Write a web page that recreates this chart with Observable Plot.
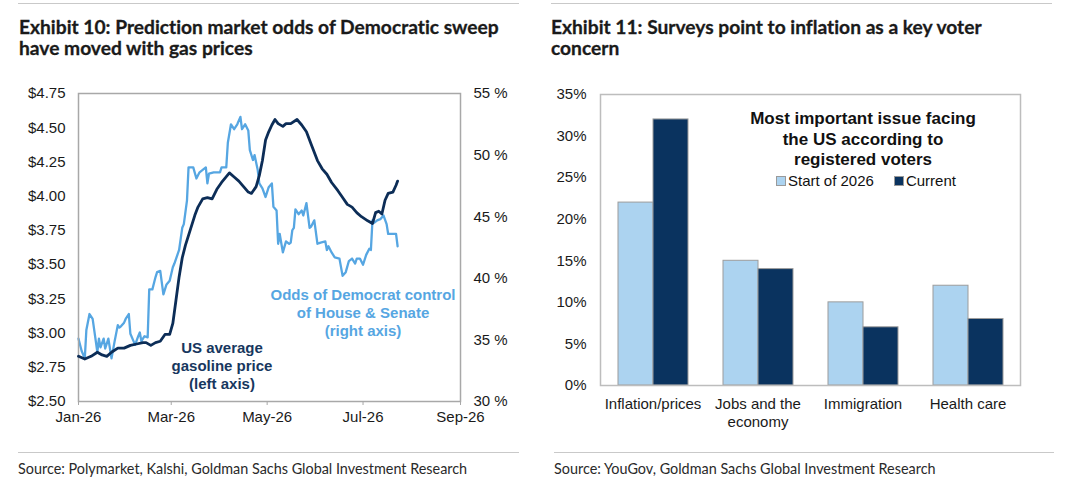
<!DOCTYPE html>
<html>
<head>
<meta charset="utf-8">
<script src="https://cdn.jsdelivr.net/npm/d3@7"></script>
<script src="https://cdn.jsdelivr.net/npm/@observablehq/plot@0.6"></script>
<style>
  html, body { margin: 0; padding: 0; background: #fff; }
  #page { position: relative; width: 1080px; height: 479px; overflow: hidden; background: #fff; }
  .abs { position: absolute; }
  .title { font-family: Lato, "Noto Sans", sans-serif; font-weight: 700; font-size: 19.2px; line-height: 21px; color: #1a1a1a; white-space: nowrap; font-variant-ligatures: none; -webkit-text-stroke: 0.3px #1a1a1a; }
  .rule { position: absolute; height: 0; border-top: 1.5px solid #c9c9c9; }
  .source { font-family: Lato, "Noto Sans", sans-serif; font-size: 14.4px; color: #2a2a2a; white-space: nowrap; font-variant-ligatures: none; }
  .anno { font-family: "Liberation Sans", Arial, sans-serif; font-weight: 700; font-size: 15px; line-height: 18px; text-align: center; white-space: nowrap; }
  .leg { font-family: "Liberation Sans", Arial, sans-serif; color: #111; white-space: nowrap; }
  .sw { display: inline-block; width: 8px; height: 8px; border: 1px solid #9a9a9a; margin-right: 2px; vertical-align: 0px; }
</style>
</head>
<body>
<div id="page"></div>
<script>
// ---------- Data: Exhibit 10 ----------
const gasDates = ["2026-01-01","2026-01-05","2026-01-09","2026-01-13","2026-01-16","2026-01-19","2026-01-22","2026-01-26","2026-01-30",
  "2026-02-03","2026-02-07","2026-02-11","2026-02-13","2026-02-16","2026-02-19","2026-02-22","2026-02-25","2026-02-28",
  "2026-03-02","2026-03-04","2026-03-06","2026-03-08","2026-03-10","2026-03-13","2026-03-16","2026-03-18","2026-03-21","2026-03-24","2026-03-27","2026-03-30",
  "2026-04-02","2026-04-07","2026-04-10","2026-04-13","2026-04-16","2026-04-19","2026-04-21","2026-04-24","2026-04-26","2026-04-28","2026-04-30",
  "2026-05-02","2026-05-04","2026-05-06","2026-05-08","2026-05-11","2026-05-13","2026-05-16","2026-05-20","2026-05-23","2026-05-26","2026-05-29",
  "2026-06-02","2026-06-05","2026-06-08","2026-06-11","2026-06-15","2026-06-18","2026-06-21","2026-06-24","2026-06-27","2026-06-30",
  "2026-07-04","2026-07-07","2026-07-09","2026-07-11","2026-07-13","2026-07-15","2026-07-17","2026-07-20","2026-07-22","2026-07-23"];
const gasPrices = [2.83,2.81,2.83,2.86,2.84,2.83,2.86,2.89,2.89,
  2.91,2.92,2.93,2.93,2.91,2.93,2.94,2.99,2.99,
  3.07,3.24,3.41,3.55,3.64,3.75,3.86,3.92,3.98,3.99,3.98,4.05,
  4.10,4.17,4.14,4.11,4.07,4.03,4.02,4.07,4.15,4.26,4.41,
  4.47,4.52,4.56,4.53,4.51,4.53,4.53,4.56,4.52,4.47,4.38,
  4.26,4.20,4.16,4.10,4.04,3.99,3.94,3.92,3.88,3.85,
  3.82,3.80,3.88,3.89,3.87,3.97,4.02,4.03,4.08,4.11];

const oddsDates = ["2026-01-01","2026-01-03","2026-01-05","2026-01-06","2026-01-08","2026-01-10","2026-01-12","2026-01-13","2026-01-14","2026-01-15",
  "2026-01-17","2026-01-18","2026-01-20","2026-01-22","2026-01-24","2026-01-26","2026-01-27","2026-01-28","2026-01-30","2026-01-31",
  "2026-02-02","2026-02-03","2026-02-05","2026-02-06","2026-02-08","2026-02-09","2026-02-10","2026-02-12","2026-02-14","2026-02-15",
  "2026-02-17","2026-02-19","2026-02-20","2026-02-22","2026-02-24","2026-02-26","2026-02-28",
  "2026-03-02","2026-03-03","2026-03-06","2026-03-08","2026-03-09","2026-03-11","2026-03-12","2026-03-15","2026-03-17","2026-03-19","2026-03-22","2026-03-23","2026-03-24","2026-03-25","2026-03-28",
  "2026-04-01","2026-04-02","2026-04-05","2026-04-06","2026-04-08","2026-04-10","2026-04-12","2026-04-14","2026-04-15","2026-04-17","2026-04-19","2026-04-20","2026-04-22","2026-04-23","2026-04-25","2026-04-26","2026-04-28","2026-04-30",
  "2026-05-02","2026-05-04","2026-05-05","2026-05-07","2026-05-08","2026-05-09","2026-05-11","2026-05-13","2026-05-15","2026-05-16","2026-05-17","2026-05-18","2026-05-19","2026-05-21","2026-05-23","2026-05-24","2026-05-26","2026-05-28","2026-05-29","2026-05-31",
  "2026-06-02","2026-06-04","2026-06-07","2026-06-08","2026-06-09","2026-06-11","2026-06-13","2026-06-16","2026-06-18","2026-06-20","2026-06-22","2026-06-24","2026-06-26","2026-06-27","2026-06-29",
  "2026-07-01","2026-07-03","2026-07-05","2026-07-06","2026-07-07","2026-07-08","2026-07-10","2026-07-12","2026-07-14","2026-07-16","2026-07-17","2026-07-20","2026-07-22","2026-07-23"];
const oddsValues = [35.1,34.1,33.5,35.8,37.1,36.7,34.9,34.0,35.1,34.4,
  35.1,34.3,35.1,33.5,34.9,36.2,36.0,36.1,36.4,36.7,
  37.1,35.5,34.9,34.6,35.3,35.6,34.9,35.3,35.2,39.1,
  39.1,40.1,40.5,40.6,38.7,39.5,39.8,
  40.9,41.2,42.3,44.1,44.4,46.3,49.0,49.0,48.1,48.6,48.9,49.0,47.7,48.5,48.6,
  48.6,49.0,49.0,51.0,52.5,52.1,52.5,53.1,52.1,52.5,52.0,50.4,49.6,50.0,48.8,47.7,47.3,46.6,
  47.4,47.7,45.8,45.5,42.8,43.6,42.1,43.0,42.8,42.9,43.9,44.1,45.6,45.2,45.5,45.1,46.1,44.1,44.2,44.7,
  42.8,42.9,43.0,42.3,42.6,42.1,41.7,41.6,40.2,40.5,41.4,41.6,41.2,41.6,41.6,
  41.1,41.9,42.4,42.3,44.7,44.5,44.7,44.8,45.1,44.4,43.6,43.6,43.6,42.6];

const dateTicks = ["2026-01-01","2026-03-01","2026-05-01","2026-07-01","2026-09-01"];
const priceTicks = [2.50,2.75,3.00,3.25,3.50,3.75,4.00,4.25,4.50,4.75];
const oddsTicks = [30,35,40,45,50,55];

// ---------- Data: Exhibit 11 ----------
const issues = ["Inflation/prices","Jobs and the\neconomy","Immigration","Health care"];
const seriesNames = ["Start of 2026","Current"];
const startOf2026 = [22,15,10,12];
const currentVals = [32,14,7,8];
const pctTicks = [0,5,10,15,20,25,30,35];

// ---------- Colours ----------
const navy = "#0c2d57";
const lightLine = "#56a6e2";
const barLight = "#acd3f0";
const barDark = "#0a335f";

const page = document.getElementById("page");
function add(html, cls, css) {
  const d = document.createElement("div");
  d.className = cls;
  Object.assign(d.style, css);
  d.innerHTML = html;
  page.appendChild(d);
  return d;
}

// Titles and rules
add("", "rule", {left: "18px", top: "3px", width: "501px"});
add("", "rule", {left: "551px", top: "3px", width: "501px"});
add("Exhibit 10: Prediction market odds of Democratic sweep<br>have moved with gas prices", "abs title", {left: "19px", top: "16px"});
add("Exhibit 11: Surveys point to inflation as a key voter<br>concern", "abs title", {left: "551px", top: "16px"});
add("", "rule", {left: "18px", top: "452px", width: "501px"});
add("", "rule", {left: "554px", top: "452px", width: "500px"});
add("Source: Polymarket, Kalshi, Goldman Sachs Global Investment Research", "abs source", {left: "18px", top: "460px"});
add("Source: YouGov, Goldman Sachs Global Investment Research", "abs source", {left: "554px", top: "460px"});

const parse = d3.utcParse("%Y-%m-%d");
const gas = gasDates.map((d, i) => ({date: parse(d), price: gasPrices[i]}));
const odds = oddsDates.map((d, i) => ({date: parse(d), odds: oddsValues[i]}));
const xDomain = [parse(dateTicks[0]), parse(dateTicks[dateTicks.length - 1])];

const common = {
  width: 530, height: 380,
  marginLeft: 78, marginRight: 70, marginTop: 33, marginBottom: 39,
  style: {fontFamily: "'Liberation Sans', Arial, sans-serif", fontSize: "15px", background: "transparent", color: "#1a1a1a", overflow: "visible"}
};

// Odds chart (right axis) underneath
const oddsPlot = Plot.plot({
  ...common,
  x: {type: "utc", domain: xDomain, axis: null},
  y: {domain: [30, 55], axis: null},
  marks: [
    Plot.axisY({anchor: "right", ticks: oddsTicks, tickFormat: d => d + " %", tickSize: 0, tickPadding: 13, label: null}),
    Plot.line(odds, {x: "date", y: "odds", stroke: lightLine, strokeWidth: 2.3})
  ]
});
// Gas chart (left axis) on top
const gasPlot = Plot.plot({
  ...common,
  x: {type: "utc", domain: xDomain},
  y: {domain: [2.5, 4.75]},
  marks: [
    Plot.frame({stroke: "#a8a8a8", strokeWidth: 1.5}),
    Plot.axisX({ticks: dateTicks.map(parse), tickFormat: d3.utcFormat("%b-%y"), tickSize: 4, tickPadding: 6, stroke: "#a8a8a8", label: null}),
    Plot.axisY({ticks: priceTicks, tickFormat: d => "$" + d.toFixed(2), tickSize: 0, tickPadding: 13, label: null}),
    Plot.line(gas, {x: "date", y: "price", stroke: navy, strokeWidth: 2.8})
  ]
});
for (const p of [oddsPlot, gasPlot]) {
  Object.assign(p.style, {position: "absolute", left: "0px", top: "60px"});
  page.appendChild(p);
}

add("US average<br>gasoline price<br>(left axis)", "abs anno", {left: "122px", width: "200px", top: "339px", color: "#17375e"});
add("Odds of Democrat control<br>of House &amp; Senate<br>(right axis)", "abs anno", {left: "263px", width: "200px", top: "286px", color: lightLine});

// Bar chart
const rows = [];
issues.forEach((iss, i) => {
  rows.push({issue: iss, series: seriesNames[0], value: startOf2026[i]});
  rows.push({issue: iss, series: seriesNames[1], value: currentVals[i]});
});
const barPlot = Plot.plot({
  width: 540, height: 380,
  marginLeft: 58, marginRight: 59, marginTop: 34, marginBottom: 55,
  style: {fontFamily: "'Liberation Sans', Arial, sans-serif", fontSize: "15px", background: "transparent", color: "#1a1a1a", overflow: "visible"},
  fx: {domain: issues, padding: 0, label: null},
  x: {domain: seriesNames, paddingInner: 0, paddingOuter: 0.5, axis: null},
  y: {domain: [0, 35], axis: null},
  color: {domain: seriesNames, range: [barLight, barDark]},
  marks: [
    Plot.barY(rows, {fx: "issue", x: "series", y: "value", fill: "series", stroke: "#9c9c9c", strokeWidth: 1, inset: 0}),
    Plot.frame({facet: "super", stroke: "#bdbdbd", strokeWidth: 1.5}),
    Plot.axisY({ticks: pctTicks, tickFormat: d => d + "%", tickSize: 0, tickPadding: 14, label: null}),
    Plot.axisFx({anchor: "bottom", tickSize: 0, tickPadding: 11, label: null, lineHeight: 1.2})
  ]
});
Object.assign(barPlot.style, {position: "absolute", left: "540px", top: "60px"});
page.appendChild(barPlot);

// Legend inside bar chart
add("Most important issue facing<br>the US according to<br>registered voters", "abs leg",
  {left: "713px", width: "300px", top: "109px", textAlign: "center", fontWeight: "700", fontSize: "17px", lineHeight: "20.5px"});
add(`<span class="sw" style="background:${barLight}"></span>${seriesNames[0]}<span style="display:inline-block;width:20px"></span><span class="sw" style="background:${barDark}"></span>${seriesNames[1]}`,
  "abs leg", {left: "776px", top: "172px", fontSize: "15px", lineHeight: "18px"});
</script>
</body>
</html>
